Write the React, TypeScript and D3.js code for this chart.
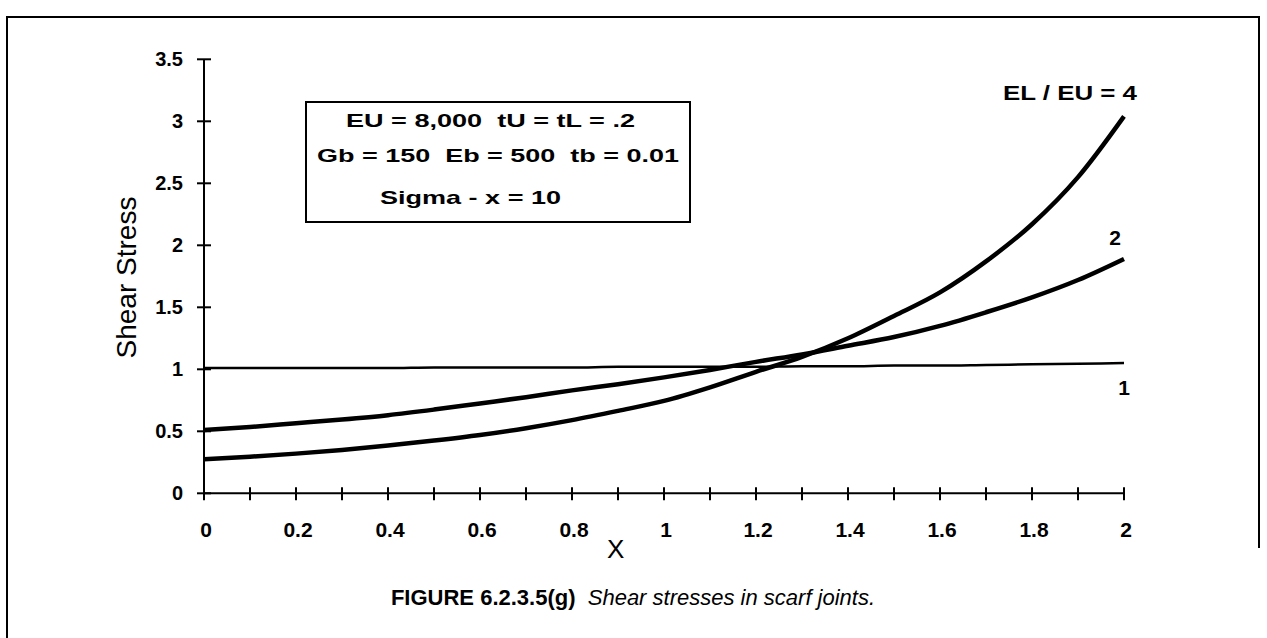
import React, { useEffect, useRef } from 'react';
import * as d3 from 'd3';

// x positions along the joint
const xValues = [0, 0.1, 0.2, 0.3, 0.4, 0.5, 0.6, 0.7, 0.8, 0.9, 1.0, 1.1, 1.2, 1.3, 1.4, 1.5, 1.6, 1.7, 1.8, 1.9, 2.0];

// shear stress for EL / EU = 4, 2, 1
const ratio4 = [0.274, 0.295, 0.32, 0.35, 0.385, 0.425, 0.47, 0.525, 0.59, 0.665, 0.745, 0.855, 0.98, 1.1, 1.25, 1.43, 1.62, 1.87, 2.17, 2.55, 3.04];
const ratio2 = [0.51, 0.535, 0.565, 0.595, 0.63, 0.675, 0.725, 0.775, 0.83, 0.88, 0.935, 0.995, 1.06, 1.12, 1.19, 1.26, 1.35, 1.46, 1.58, 1.72, 1.89];
const ratio1 = [1.01, 1.01, 1.01, 1.01, 1.01, 1.015, 1.015, 1.015, 1.015, 1.02, 1.02, 1.02, 1.02, 1.025, 1.025, 1.03, 1.03, 1.035, 1.04, 1.045, 1.05];

const seriesLabels = ['EL / EU = 4', '2', '1'];

const yTicks = [0, 0.5, 1, 1.5, 2, 2.5, 3, 3.5];
const yTickLabels = ['0', '0.5', '1', '1.5', '2', '2.5', '3', '3.5'];
const xMinorTicks = xValues;
const xLabelTicks = [0, 0.2, 0.4, 0.6, 0.8, 1, 1.2, 1.4, 1.6, 1.8, 2];
const xTickLabels = ['0', '0.2', '0.4', '0.6', '0.8', '1', '1.2', '1.4', '1.6', '1.8', '2'];

const legendLines = ['EU = 8,000  tU = tL = .2', 'Gb = 150  Eb = 500  tb = 0.01', 'Sigma - x = 10'];

const W = 1267;
const H = 638;
const FONT = '"Liberation Sans", Arial, sans-serif';

const App: React.FC = () => {
  const svgRef = useRef<SVGSVGElement>(null);

  useEffect(() => {
    if (!svgRef.current) return;
    const svg = d3.select(svgRef.current);
    svg.selectAll('*').remove();

    svg.append('rect').attr('width', W).attr('height', H).attr('fill', '#fff');

    // outer figure frame
    svg.append('path')
      .attr('d', `M7,${H + 5} V17 H1259 V548`)
      .attr('fill', 'none')
      .attr('stroke', '#000')
      .attr('stroke-width', 2);

    const x = d3.scaleLinear().domain([0, 2]).range([204, 1124]);
    const y = d3.scaleLinear().domain([0, 3.5]).range([493.3, 59.3]);

    const g = svg.append('g');

    // y axis
    g.append('line')
      .attr('x1', x(0)).attr('x2', x(0))
      .attr('y1', y(0)).attr('y2', y(3.5))
      .attr('stroke', '#000').attr('stroke-width', 2);
    g.selectAll('line.ytick')
      .data(yTicks)
      .enter()
      .append('line')
      .attr('class', 'ytick')
      .attr('x1', x(0) - 7).attr('x2', x(0) + 7)
      .attr('y1', d => y(d)).attr('y2', d => y(d))
      .attr('stroke', '#000').attr('stroke-width', 2);
    g.selectAll('text.ylab')
      .data(yTicks)
      .enter()
      .append('text')
      .attr('class', 'ylab')
      .attr('x', x(0) - 21)
      .attr('y', d => y(d) + 7)
      .attr('text-anchor', 'end')
      .attr('font-family', FONT)
      .attr('font-weight', 'bold')
      .attr('font-size', 20)
      .text((d, i) => yTickLabels[i]);

    // x axis
    g.append('line')
      .attr('x1', x(0)).attr('x2', x(2))
      .attr('y1', y(0)).attr('y2', y(0))
      .attr('stroke', '#000').attr('stroke-width', 2);
    g.selectAll('line.xtick')
      .data(xMinorTicks)
      .enter()
      .append('line')
      .attr('class', 'xtick')
      .attr('x1', d => x(d)).attr('x2', d => x(d))
      .attr('y1', y(0) - 6).attr('y2', y(0) + 7)
      .attr('stroke', '#000').attr('stroke-width', 2);
    g.selectAll('text.xlab')
      .data(xLabelTicks)
      .enter()
      .append('text')
      .attr('class', 'xlab')
      .attr('x', d => x(d) + 2)
      .attr('y', 537)
      .attr('text-anchor', 'middle')
      .attr('font-family', FONT)
      .attr('font-weight', 'bold')
      .attr('font-size', 21)
      .text((d, i) => xTickLabels[i]);

    // axis titles
    g.append('text')
      .attr('x', x(0.895))
      .attr('y', 558)
      .attr('text-anchor', 'middle')
      .attr('font-family', FONT)
      .attr('font-size', 26)
      .text('X');
    g.append('text')
      .attr('transform', `translate(136,${y(1.74)}) rotate(-90)`)
      .attr('text-anchor', 'middle')
      .attr('font-family', FONT)
      .attr('font-size', 28)
      .text('Shear Stress');

    // curves
    const line = d3.line<number>()
      .x((d, i) => x(xValues[i]))
      .y(d => y(d))
      .curve(d3.curveMonotoneX);

    const series = [
      { values: ratio1, width: 2.5 },
      { values: ratio2, width: 4.5 },
      { values: ratio4, width: 4.5 },
    ];
    g.selectAll('path.curve')
      .data(series)
      .enter()
      .append('path')
      .attr('class', 'curve')
      .attr('d', d => line(d.values))
      .attr('fill', 'none')
      .attr('stroke', '#000')
      .attr('stroke-width', d => d.width)
      .attr('stroke-linejoin', 'round');

    // curve labels
    g.append('text')
      .attr('x', 1003)
      .attr('y', 100)
      .attr('textLength', 134)
      .attr('lengthAdjust', 'spacingAndGlyphs')
      .attr('font-family', FONT)
      .attr('font-weight', 'bold')
      .attr('font-size', 21)
      .style('white-space', 'pre')
      .text(seriesLabels[0]);
    const smallLabels = [
      { x: 1115, y: 245, v: seriesLabels[1] },
      { x: 1124, y: 395, v: seriesLabels[2] },
    ];
    g.selectAll('text.slab')
      .data(smallLabels)
      .enter()
      .append('text')
      .attr('class', 'slab')
      .attr('x', d => d.x)
      .attr('y', d => d.y)
      .attr('text-anchor', 'middle')
      .attr('font-family', FONT)
      .attr('font-weight', 'bold')
      .attr('font-size', 21)
      .text(d => d.v);

    // parameter box
    g.append('rect')
      .attr('x', 306).attr('y', 102)
      .attr('width', 384).attr('height', 120)
      .attr('fill', '#fff')
      .attr('stroke', '#000').attr('stroke-width', 2);
    const legPos = [
      { x: 346, y: 127, len: 289 },
      { x: 317, y: 162, len: 362 },
      { x: 380, y: 204, len: 181 },
    ];
    g.selectAll('text.leg')
      .data(legendLines)
      .enter()
      .append('text')
      .attr('class', 'leg')
      .attr('x', (d, i) => legPos[i].x)
      .attr('y', (d, i) => legPos[i].y)
      .attr('textLength', (d, i) => legPos[i].len)
      .attr('lengthAdjust', 'spacingAndGlyphs')
      .attr('font-family', FONT)
      .attr('font-weight', 'bold')
      .attr('font-size', 19)
      .style('white-space', 'pre')
      .text(d => d);

    // caption
    const cap = svg.append('text')
      .attr('x', 633)
      .attr('y', 605)
      .attr('text-anchor', 'middle')
      .attr('font-family', FONT)
      .attr('font-size', 22)
      .style('white-space', 'pre');
    cap.append('tspan').attr('font-weight', 'bold').text('FIGURE 6.2.3.5(g)');
    cap.append('tspan').attr('font-style', 'italic').text('  Shear stresses in scarf joints.');
  }, []);

  return (
    <div style={{ position: 'absolute', left: 0, top: 0 }}>
      <svg ref={svgRef} width={W} height={H} />
    </div>
  );
};

export default App;
